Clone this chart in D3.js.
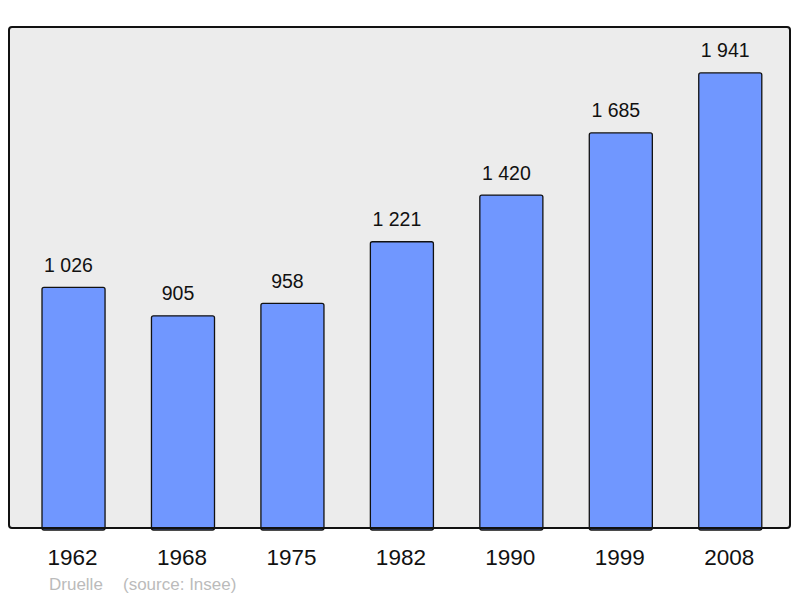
<!DOCTYPE html>
<html><head><meta charset="utf-8">
<script src="https://cdn.jsdelivr.net/npm/d3@7"></script>
<style>body{margin:0;background:#fff}svg{display:block}</style>
</head><body>
<script>
const years = ["1962","1968","1975","1982","1990","1999","2008"];
const population = [1026, 905, 958, 1221, 1420, 1685, 1941];
const valueLabels = ["1 026","905","958","1 221","1 420","1 685","1 941"];
const commune = "Druelle";
const sourceText = "(source: Insee)";

const W = 800, H = 598;
const FONT = "Liberation Sans, Arial, sans-serif";
const svg = d3.select("body").append("svg").attr("width", W).attr("height", H);
const box = {x0: 9, y0: 27, x1: 790, y1: 528};

svg.append("rect").attr("x", box.x0).attr("y", box.y0)
  .attr("width", box.x1 - box.x0).attr("height", box.y1 - box.y0)
  .attr("rx", 3).attr("fill", "#ececec");

const x = d3.scaleBand().domain(years).range([18.8, 785]).paddingInner(0.424).paddingOuter(0.212);
const y = d3.scaleLinear().domain([0, 2137]).range([box.y1, box.y0]);

svg.selectAll("rect.bar").data(years).enter().append("rect").attr("class", "bar")
  .attr("x", d => x(d)).attr("width", x.bandwidth())
  .attr("y", (d, i) => y(population[i])).attr("height", (d, i) => y(0) - y(population[i]) + 2)
  .attr("rx", 2).attr("fill", "#7097ff").attr("stroke", "#111").attr("stroke-width", 1.3);

svg.selectAll("text.val").data(years).enter().append("text").attr("class", "val")
  .attr("x", d => x(d) + x.bandwidth() / 2 - 5).attr("y", (d, i) => y(population[i]) - 15.5)
  .attr("text-anchor", "middle").attr("font-family", FONT)
  .attr("font-size", 19.5).attr("fill", "#111").text((d, i) => valueLabels[i]);

// frame on top
svg.append("rect").attr("x", box.x0).attr("y", box.y0)
  .attr("width", box.x1 - box.x0).attr("height", box.y1 - box.y0)
  .attr("rx", 3).attr("fill", "none").attr("stroke", "#111").attr("stroke-width", 2);

const xAxis = d3.axisBottom(x).tickSize(0).tickPadding(0);
const gx = svg.append("g").attr("transform", `translate(-1,${box.y1})`).call(xAxis);
gx.select(".domain").remove();
gx.selectAll("text").attr("y", 37).attr("dy", 0)
  .attr("font-family", FONT).attr("font-size", 22.5).attr("fill", "#111");

svg.append("text").attr("x", 49).attr("y", 590).attr("font-family", FONT)
  .attr("font-size", 17).attr("fill", "#bbb").text(commune);
svg.append("text").attr("x", 123).attr("y", 590).attr("font-family", FONT)
  .attr("font-size", 17).attr("fill", "#bbb").text(sourceText);
</script>
</body></html>
